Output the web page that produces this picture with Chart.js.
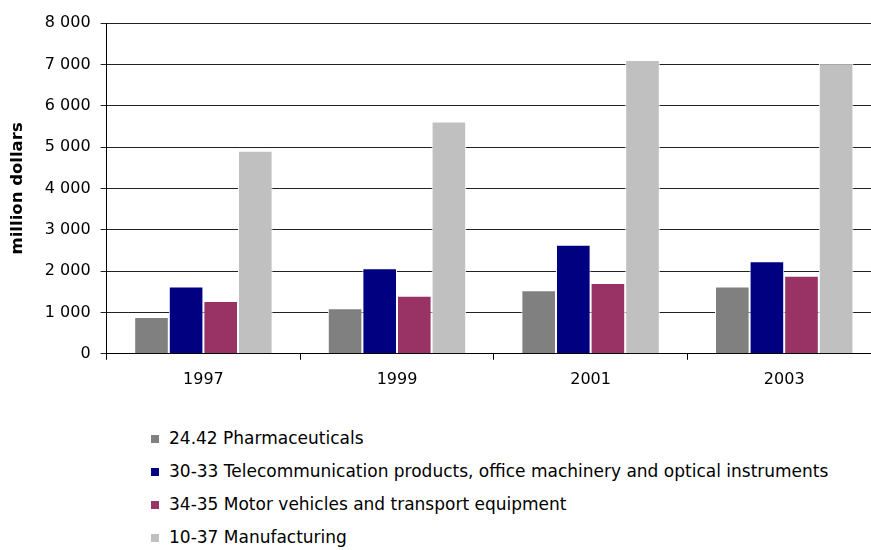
<!DOCTYPE html>
<html>
<head>
<meta charset="utf-8">
<script src="https://cdn.jsdelivr.net/npm/chart.js@4.4.0/dist/chart.umd.min.js"></script>
<style>
  html, body { margin: 0; padding: 0; background: #fff; overflow: hidden; }
  #wrap { position: relative; width: 871px; height: 550px; overflow: hidden; }
  #chart1 { position: absolute; left: 0; top: 0; }
  #legend { position: absolute; left: 151px; top: 427px; font-family: "DejaVu Sans", sans-serif; font-size: 17px; color: #000; }
  #legend div { height: 33px; line-height: 22px; white-space: nowrap; }
  #legend span { display: inline-block; width: 8px; height: 8px; margin-right: 10px; vertical-align: 1px; }
</style>
</head>
<body>
<div id="wrap">
  <canvas id="chart1" width="881" height="399"></canvas>
  <div id="legend"></div>
</div>
<script>
////////////////////////////////////////Data\\\\\\\\\\\\\\\\\\\\\\\\\\\\\\\\\\\\\\\\

var years = ['1997', '1999', '2001', '2003'];
var yTicks = [0, 1000, 2000, 3000, 4000, 5000, 6000, 7000, 8000];

var pharma = [890, 1100, 1535, 1630];
var telecom = [1630, 2070, 2640, 2240];
var motor = [1275, 1405, 1710, 1890];
var manuf = [4910, 5615, 7105, 7020];

var seriesNames = [
  '24.42 Pharmaceuticals',
  '30-33 Telecommunication products, office machinery and optical instruments',
  '34-35 Motor vehicles and transport equipment',
  '10-37 Manufacturing'
];
var seriesColors = ['#808080', '#000080', '#993366', '#C0C0C0'];
var seriesValues = [pharma, telecom, motor, manuf];

////////////////////////////////////////Chart\\\\\\\\\\\\\\\\\\\\\\\\\\\\\\\\\\\\\\\\

var DataArray = [];
for (var i = 0; i < seriesNames.length; i++) {
  DataArray.push({
    label: seriesNames[i],
    data: seriesValues[i],
    backgroundColor: seriesColors[i],
    borderColor: '#ffffff',
    borderWidth: 1,
    categoryPercentage: 0.715,
    barPercentage: 1
  });
}

function fmt(v) {
  return String(v).replace(/\B(?=(\d{3})+(?!\d))/g, ' ');
}

var font = { family: '"DejaVu Sans", sans-serif', size: 16 };

var ctx = document.getElementById('chart1').getContext('2d');
var myChart = new Chart(ctx, {
  type: 'bar',
  data: { labels: years, datasets: DataArray },
  options: {
    responsive: false,
    animation: false,
    layout: { padding: { top: 23, left: 2, right: 0, bottom: 0 } },
    plugins: { legend: { display: false }, tooltip: { enabled: false } },
    scales: {
      x: {
        offset: true,
        grid: { offset: true, drawOnChartArea: false, color: '#000', tickLength: 6 },
        border: { color: '#000', width: 1 },
        ticks: { color: '#000', font: font, padding: 10 }
      },
      y: {
        min: 0,
        max: 8000,
        afterBuildTicks: function (axis) {
          axis.ticks = yTicks.map(function (v) { return { value: v }; });
        },
        grid: { color: '#222', tickLength: 6 },
        border: { color: '#000', width: 1 },
        ticks: { color: '#000', font: font, padding: 10, callback: function (v) { return fmt(v); } },
        title: { display: true, text: 'million dollars', color: '#000',
                 font: { family: '"DejaVu Sans", sans-serif', size: 16.5, weight: 'bold' },
                 padding: { top: 6, bottom: 7 } }
      }
    }
  }
});

////////////////////////////////////////Legend\\\\\\\\\\\\\\\\\\\\\\\\\\\\\\\\\\\\\\\\

var legend = document.getElementById('legend');
DataArray.forEach(function (d) {
  var row = document.createElement('div');
  var box = document.createElement('span');
  box.style.background = d.backgroundColor;
  row.appendChild(box);
  row.appendChild(document.createTextNode(d.label));
  legend.appendChild(row);
});
</script>
</body>
</html>
